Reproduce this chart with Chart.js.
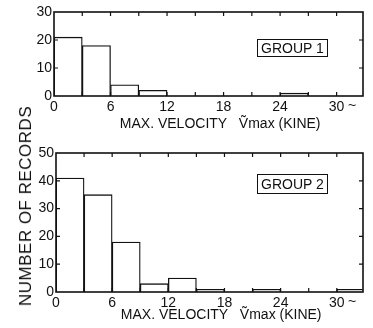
<!DOCTYPE html>
<html>
<head>
<title>Max velocity histograms</title>
<script src="https://cdn.jsdelivr.net/npm/chart.js"></script>
<style>
body { margin: 0; background: #fff; width: 373px; height: 328px; position: relative; overflow: hidden; font-family: "Liberation Sans", Arial, sans-serif; color: #111; }
canvas { position: absolute; left: 0; }
#ylabel { position: absolute; left: 26px; top: 206px; transform: translate(-50%, -50%) rotate(-90deg); font-size: 17px; white-space: nowrap; letter-spacing: 0.5px; }
.group { position: absolute; left: 257px; width: 69px; border: 1.5px solid #111; font-size: 14px; text-align: center; line-height: 16px; }
</style>
</head>
<body>
<canvas id="chart1" width="373" height="134" style="top:0"></canvas>
<canvas id="chart2" width="373" height="188" style="top:140px"></canvas>
<div id="ylabel">NUMBER OF RECORDS</div>
<div class="group" style="top:39px; height:16px">GROUP 1</div>
<div class="group" style="top:174px; height:18px; line-height:18px">GROUP 2</div>
<script>
// bins of 3 kine, left edges
const binStarts = [0, 3, 6, 9, 12, 15, 18, 21, 24, 27, 30];
const group1Counts = [21, 18, 4, 2, 0, 0, 0, 0, 1, 0, 0];
const group2Counts = [41, 35, 18, 3, 5, 1, 0, 1, 0, 0, 1];
const xLabelValues = [0, 6, 12, 18, 24, 30];
const xTitle = '      MAX. VELOCITY   \u1E7Cmax (KINE)';

const ink = '#111';
const font = { family: '"Liberation Sans", Arial, sans-serif', size: 14 };

// box around plot with inward tick marks, plus the axis break mark
const frame = {
    id: 'frame',
    afterDraw(chart) {
        const { ctx, chartArea: a, scales: { x, y } } = chart;
        ctx.save();
        ctx.strokeStyle = ink;
        ctx.lineWidth = 1.6;
        ctx.strokeRect(a.left, a.top, a.right - a.left, a.bottom - a.top);
        ctx.lineWidth = 1.2;
        ctx.beginPath();
        x.ticks.forEach(t => {
            const px = x.getPixelForValue(t.value);
            if (px <= a.left + 2 || px >= a.right - 2) return;
            ctx.moveTo(px, a.bottom); ctx.lineTo(px, a.bottom - 4);
            ctx.moveTo(px, a.top); ctx.lineTo(px, a.top + 4);
        });
        y.ticks.forEach(t => {
            const py = y.getPixelForValue(t.value);
            if (py <= a.top + 2 || py >= a.bottom - 2) return;
            ctx.moveTo(a.left, py); ctx.lineTo(a.left + 4, py);
            ctx.moveTo(a.right, py); ctx.lineTo(a.right - 4, py);
        });
        ctx.stroke();
        ctx.fillStyle = ink;
        ctx.font = '14px "Liberation Sans", Arial, sans-serif';
        ctx.fillText('~', x.getPixelForValue(31.2), a.bottom + 14);
        ctx.restore();
    }
};

function makeChart(id, counts, yMax, yWidth, padTop, padBottom, xHeight) {
    new Chart(document.getElementById(id), {
        type: 'bar',
        data: {
            datasets: [{
                data: binStarts.map((b, i) => ({ x: b + 1.5, y: counts[i] })),
                backgroundColor: '#fff',
                borderColor: ink,
                borderWidth: 1.3,
                barPercentage: 1,
                categoryPercentage: 1
            }]
        },
        options: {
            responsive: false,
            animation: false,
            layout: { padding: { top: padTop, right: 10, bottom: padBottom, left: 0 } },
            plugins: { legend: { display: false }, tooltip: { enabled: false } },
            scales: {
                x: {
                    type: 'linear',
                    offset: false,
                    min: 0,
                    max: 32.8,
                    grid: { display: false, drawTicks: false },
                    border: { display: false },
                    afterFit: s => { s.height = xHeight; },
                    afterBuildTicks: s => { s.ticks = binStarts.map(v => ({ value: v })); },
                    ticks: {
                        autoSkip: false,
                        maxRotation: 0,
                        padding: 3,
                        color: ink,
                        font: font,
                        callback: v => xLabelValues.includes(v) ? String(v) : ''
                    },
                    title: { display: true, text: xTitle, color: ink, font: font, padding: { top: 0, bottom: 1 } }
                },
                y: {
                    min: 0,
                    max: yMax,
                    grid: { display: false, drawTicks: false },
                    border: { display: false },
                    afterFit: s => { s.width = yWidth; },
                    ticks: { stepSize: 10, padding: 2, color: ink, font: font }
                }
            }
        },
        plugins: [frame]
    });
}

makeChart('chart1', group1Counts, 30, 54, 12, 0, 38);
makeChart('chart2', group2Counts, 50, 56, 13, 3, 33);
</script>
</body>
</html>
